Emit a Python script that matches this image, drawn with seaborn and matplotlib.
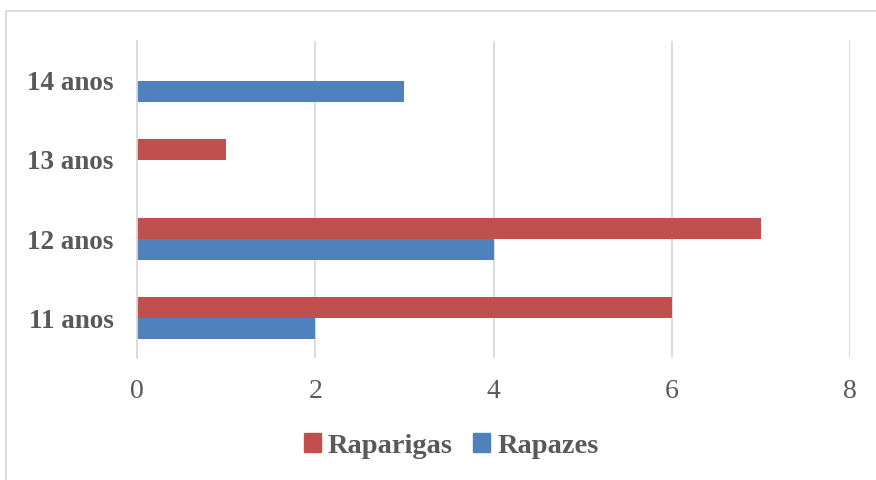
import matplotlib
matplotlib.use("Agg")
import matplotlib.pyplot as plt
import matplotlib.patches as mpatches
import pandas as pd
import seaborn as sb

# data
idades = ["14 anos", "13 anos", "12 anos", "11 anos"]
raparigas = [0, 1, 7, 6]
rapazes = [3, 0, 4, 2]
series = ["Raparigas", "Rapazes"]
cores = ["#C0504D", "#4F81BD"]
x_ticks = [0, 2, 4, 6, 8]

texto = "#595959"
grelha = "#D9D9D9"

sb.set_theme(style="white")
plt.rcParams['font.family'] = ['Liberation Serif', 'DejaVu Serif']

df = pd.DataFrame({
    "idade": idades * 2,
    "valor": raparigas + rapazes,
    "sexo": [series[0]] * len(idades) + [series[1]] * len(idades),
})

fig = plt.figure(figsize=(8.76, 4.8), dpi=100)
ax = fig.add_axes([137 / 876, 1 - 358 / 480, (850 - 137) / 876, (358 - 41) / 480])

sb.barplot(data=df, x="valor", y="idade", hue="sexo", order=idades,
           hue_order=series, palette=cores, saturation=1, width=0.53,
           linewidth=0, orient="h", ax=ax, legend=False)

ax.set_xlim(0, 8)
ax.set_ylim(3.5, -0.5)
ax.set_xticks(x_ticks)
ax.set_xticklabels([str(t) for t in x_ticks])
ax.set_xlabel("")
ax.set_ylabel("")

# vertical gridlines only
ax.grid(False)
for t in x_ticks[1:]:
    ax.axvline(t, color=grelha, lw=1.3, zorder=0)
for s in ["top", "right", "bottom"]:
    ax.spines[s].set_visible(False)
ax.spines["left"].set_color(grelha)
ax.spines["left"].set_linewidth(1.3)

ax.tick_params(axis="x", length=0, pad=15, labelsize=20, labelcolor=texto)
ax.tick_params(axis="y", length=0, pad=17, labelsize=19.5, labelcolor=texto)
for lab in ax.get_yticklabels():
    lab.set_fontweight("bold")

# legend under the plot
handles = [mpatches.Patch(color=c, label=s) for c, s in zip(cores, series)]
fig.legend(handles=handles, loc="center", bbox_to_anchor=(0.515, 1 - 446 / 480),
           ncol=2, frameon=False, handlelength=0.6, handleheight=0.6,
           handletextpad=0.25, columnspacing=0.7,
           prop={"size": 20.5, "weight": "bold"}, labelcolor=texto)

# light border around the chart area
fig.patches.append(mpatches.Rectangle((6 / 876, -0.05), 1.0, 1 - 11 / 480 + 0.05,
                                      transform=fig.transFigure, fill=False,
                                      edgecolor=grelha, lw=1.3))

fig.savefig("out.png", dpi=100)
